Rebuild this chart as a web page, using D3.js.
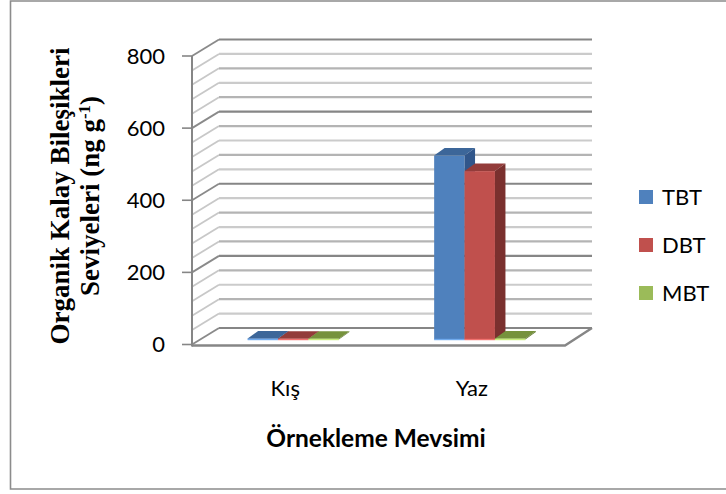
<!DOCTYPE html>
<html>
<head>
<meta charset="utf-8">
<script src="https://cdn.jsdelivr.net/npm/d3@7"></script>
<style>
  html, body { margin: 0; padding: 0; background: #fff; }
  svg { display: block; }
</style>
</head>
<body>
<svg id="chart" width="726" height="494"></svg>
<script>
// Seasons on the category axis
const categories = ["Kış", "Yaz"];
// Organotin series and their values (ng g-1) per season
const seriesNames = ["TBT", "DBT", "MBT"];
const tbtValues = [3, 510];
const dbtValues = [2, 467];
const mbtValues = [2, 3];
const yTicks = [0, 200, 400, 600, 800];

const seriesValues = [tbtValues, dbtValues, mbtValues];
const colors = {
  TBT: { front: "#4f81bd", top: "#3c6699", side: "#31568a" },
  DBT: { front: "#c0504d", top: "#933c3a", side: "#7a302e" },
  MBT: { front: "#9bbb59", top: "#76923c", side: "#627a30" }
};

const svg = d3.select("#chart");

// chart frame
svg.append("path")
  .attr("d", "M 730 1 H 10.5 V 489 H 730")
  .attr("fill", "none").attr("stroke", "#8c8c8c").attr("stroke-width", 1.6);

// front plane geometry; depth is an oblique offset toward the upper right
const x0 = 192, x1 = 565;
const DX = 27, DY = -16.5;
const y = d3.scaleLinear().domain([0, 800]).range([344.5, 56]);
const xBand = d3.scaleBand().domain(categories).range([x0, x1])
  .paddingInner(0.511).paddingOuter(0.2555);
const xSeries = d3.scaleBand().domain(seriesNames).range([0, xBand.bandwidth()]);

// bar placement in depth
const barShift = { dx: 8, dy: -5 };
const barDepth = { dx: 10.5, dy: -7.5 };

const grid = svg.append("g");
const gridValues = d3.range(0, 801, 40);
gridValues.forEach(v => {
  const major = v % 200 === 0;
  const col = major ? "#868686" : (v / 40) % 2 ? "#cbcbcb" : "#b4b4b4";
  // side wall
  grid.append("line")
    .attr("x1", x0).attr("y1", y(v))
    .attr("x2", x0 + DX).attr("y2", y(v) + DY)
    .attr("stroke", major ? "#8a8a8a" : "#c8c8c8").attr("stroke-width", 1.8);
  // back wall
  grid.append("line")
    .attr("x1", x0 + DX).attr("y1", y(v) + DY)
    .attr("x2", x1 + DX).attr("y2", y(v) + DY)
    .attr("stroke", col).attr("stroke-width", 2.2);
});

// floor edges
grid.append("path")
  .attr("d", `M ${x0} ${y(0)+1} H ${x1} L ${x1 + DX} ${y(0) + DY}`)
  .attr("fill", "none").attr("stroke", "#868686").attr("stroke-width", 2.4);

// vertical axis
const axisG = svg.append("g");
axisG.append("line")
  .attr("x1", x0).attr("x2", x0).attr("y1", y(800)).attr("y2", y(0) + 2)
  .attr("stroke", "#868686").attr("stroke-width", 2);
yTicks.forEach(t => {
  axisG.append("line")
    .attr("x1", x0 - 10).attr("x2", x0).attr("y1", y(t)).attr("y2", y(t))
    .attr("stroke", "#868686").attr("stroke-width", 1.6);
  axisG.append("text")
    .attr("x", 165).attr("y", y(t))
    .attr("dy", "0.36em")
    .attr("text-anchor", "end")
    .attr("font-family", "Lato, 'Open Sans', sans-serif")
    .attr("font-size", 22)
    .attr("fill", "#000")
    .text(t);
});

// 3D bars, drawn left to right so each bar hides its neighbour's side face
const bars = svg.append("g");
categories.forEach((cat, ci) => {
  seriesNames.forEach((s, si) => {
    const v = seriesValues[si][ci];
    const xl = xBand(cat) + xSeries(s) + barShift.dx;
    const xr = xl + xSeries.bandwidth();
    const yb = y(0) + barShift.dy;
    const yt = y(v) + barShift.dy;
    const c = colors[s];
    // front
    bars.append("rect")
      .attr("x", xl).attr("y", yt)
      .attr("width", xr - xl).attr("height", Math.max(0, yb - yt))
      .attr("fill", c.front);
    // top
    bars.append("path")
      .attr("d", `M ${xl} ${yt} L ${xl + barDepth.dx} ${yt + barDepth.dy} L ${xr + barDepth.dx} ${yt + barDepth.dy} L ${xr} ${yt} Z`)
      .attr("fill", c.top);
    // right side
    bars.append("path")
      .attr("d", `M ${xr} ${yt} L ${xr + barDepth.dx} ${yt + barDepth.dy} L ${xr + barDepth.dx} ${yb + barDepth.dy} L ${xr} ${yb} Z`)
      .attr("fill", c.side);
    // light base edge
    bars.append("line")
      .attr("x1", xl).attr("x2", xr).attr("y1", yb).attr("y2", yb)
      .attr("stroke", d3.color(c.front).brighter(0.7)).attr("stroke-width", 1.5)
      .attr("opacity", 0.8);
  });
});

// category labels
categories.forEach(cat => {
  svg.append("text")
    .attr("x", xBand(cat) + xBand.bandwidth() / 2)
    .attr("y", 396)
    .attr("text-anchor", "middle")
    .attr("font-family", "Lato, 'Open Sans', sans-serif")
    .attr("font-size", 22)
    .text(cat);
});

// x-axis title
svg.append("text")
  .attr("x", 376).attr("y", 447)
  .attr("text-anchor", "middle")
  .attr("font-family", "Lato, 'Open Sans', sans-serif")
  .attr("font-weight", "bold")
  .attr("font-size", 24.5)
  .text("Örnekleme Mevsimi");

// y-axis title, two lines
const yTitle = svg.append("g")
  .attr("transform", "translate(0,196) rotate(-90)")
  .attr("font-family", "'Liberation Serif', 'Times New Roman', serif")
  .attr("font-weight", "bold")
  .attr("font-size", 27)
  .attr("text-anchor", "middle");
yTitle.append("text").attr("x", 0).attr("y", 69).text("Organik Kalay Bileşikleri");
const l2 = yTitle.append("text").attr("x", 0).attr("y", 99);
l2.append("tspan").text("Seviyeleri (ng g");
l2.append("tspan").attr("dy", -9).attr("font-size", 17).text("-1");
l2.append("tspan").attr("dy", 9).text(")");

// legend
const legend = svg.append("g");
seriesNames.forEach((s, i) => {
  const cy = 197 + i * 48;
  legend.append("rect")
    .attr("x", 639).attr("y", cy - 7).attr("width", 14).attr("height", 14)
    .attr("fill", colors[s].front);
  legend.append("text")
    .attr("x", 662).attr("y", cy).attr("dy", "0.36em")
    .attr("font-family", "Lato, 'Open Sans', sans-serif")
    .attr("font-size", 22)
    .text(s);
});
</script>
</body>
</html>
